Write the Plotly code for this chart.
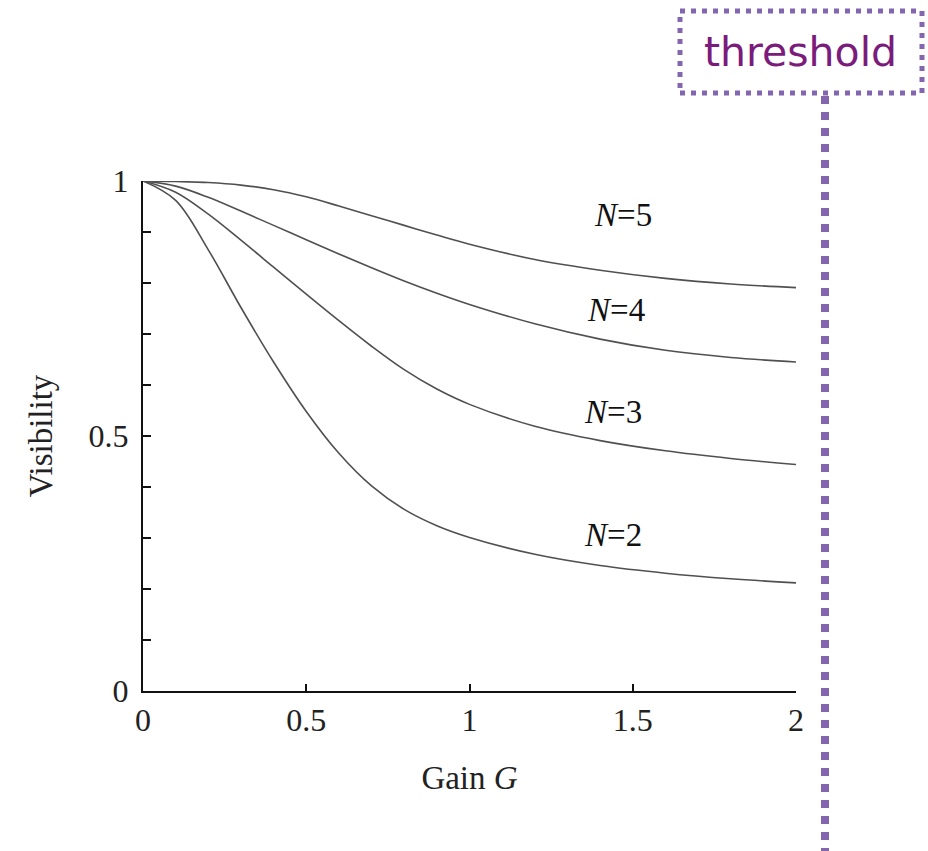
import plotly.graph_objects as go

gain = [0, 0.1, 0.2, 0.3, 0.4, 0.5, 0.6, 0.7, 0.8, 0.9, 1.0, 1.2, 1.4, 1.6, 1.8, 2.0]
vis_n2 = [1.0, 0.962, 0.865, 0.752, 0.645, 0.548, 0.466, 0.402, 0.356, 0.324, 0.301, 0.268, 0.246, 0.231, 0.220, 0.212]
vis_n3 = [1.0, 0.978, 0.935, 0.884, 0.831, 0.778, 0.726, 0.676, 0.630, 0.592, 0.562, 0.519, 0.491, 0.471, 0.456, 0.444]
vis_n4 = [1.0, 0.990, 0.968, 0.941, 0.913, 0.885, 0.857, 0.830, 0.804, 0.780, 0.758, 0.720, 0.690, 0.668, 0.654, 0.645]
vis_n5 = [1.0, 0.999, 0.997, 0.992, 0.983, 0.969, 0.951, 0.932, 0.913, 0.894, 0.876, 0.846, 0.825, 0.809, 0.798, 0.791]

series = [("N=2", vis_n2), ("N=3", vis_n3), ("N=4", vis_n4), ("N=5", vis_n5)]
label_text = ["<i>N</i>=5", "<i>N</i>=4", "<i>N</i>=3", "<i>N</i>=2"]
label_x = [1.47, 1.45, 1.44, 1.44]
label_y = [0.933, 0.747, 0.547, 0.306]

W, H = 928, 851
L, R, T, B = 143, 796, 181, 691

fig = go.Figure()
for name, v in series:
    fig.add_trace(go.Scatter(x=gain, y=v, mode="lines", name=name,
                             line=dict(color="#505050", width=1.6, shape="spline", smoothing=1.0),
                             showlegend=False, hoverinfo="skip"))

serif = "Liberation Serif"
for t, x, y in zip(label_text, label_x, label_y):
    fig.add_annotation(x=x, y=y, xref="x", yref="y", text=t, showarrow=False,
                       font=dict(family=serif, size=33, color="#111"))

def px(xp):
    return (xp - L) / (R - L)

def py(yp):
    return (B - yp) / (B - T)

purple = "#8466b0"
# threshold box
fig.add_shape(type="rect", xref="paper", yref="paper",
              x0=px(680), x1=px(922), y0=py(93), y1=py(11),
              line=dict(color=purple, width=5, dash="5px,6px"), fillcolor="rgba(0,0,0,0)")
fig.add_shape(type="line", xref="paper", yref="paper",
              x0=px(825), x1=px(825), y0=py(96), y1=py(860),
              line=dict(color=purple, width=8, dash="dot"))
fig.add_annotation(xref="paper", yref="paper", x=px(800), y=py(52), text="threshold",
                   showarrow=False, font=dict(family="DejaVu Sans", size=41, color="#7b1b7b"),
                   xanchor="center", yanchor="middle")

fig.update_layout(
    width=W, height=H,
    margin=dict(l=L, r=W - R, t=T, b=H - B),
    paper_bgcolor="white", plot_bgcolor="white",
    font=dict(family=serif, size=32, color="#111"),
    xaxis=dict(range=[0, 2], showline=True, linecolor="#111", linewidth=2,
               showgrid=False, zeroline=False, ticks="inside", ticklen=7, tickwidth=2,
               tickcolor="#111", tickvals=[0, 0.5, 1, 1.5, 2], ticktext=["0", "0.5", "1", "1.5", "2"],
               tickfont=dict(family=serif, size=32, color="#222"),
               title=dict(text="Gain <i>G</i>", font=dict(family=serif, size=33, color="#222"), standoff=28)),
    yaxis=dict(range=[0, 1], showline=True, linecolor="#111", linewidth=2,
               showgrid=False, zeroline=False, ticks="inside", ticklen=8, tickwidth=2,
               tickcolor="#111", tickvals=[0, 0.5, 1], ticktext=["0", "0.5", "1"],
               ticklabelstandoff=6,
               minor=dict(tickvals=[0.1, 0.2, 0.3, 0.4, 0.6, 0.7, 0.8, 0.9], ticks="inside",
                          ticklen=8, tickwidth=2, tickcolor="#111", showgrid=False),
               tickfont=dict(family=serif, size=32, color="#222"),
               title=dict(text="Visibility", font=dict(family=serif, size=33, color="#222"), standoff=26)),
)

fig.write_html("out.html")
